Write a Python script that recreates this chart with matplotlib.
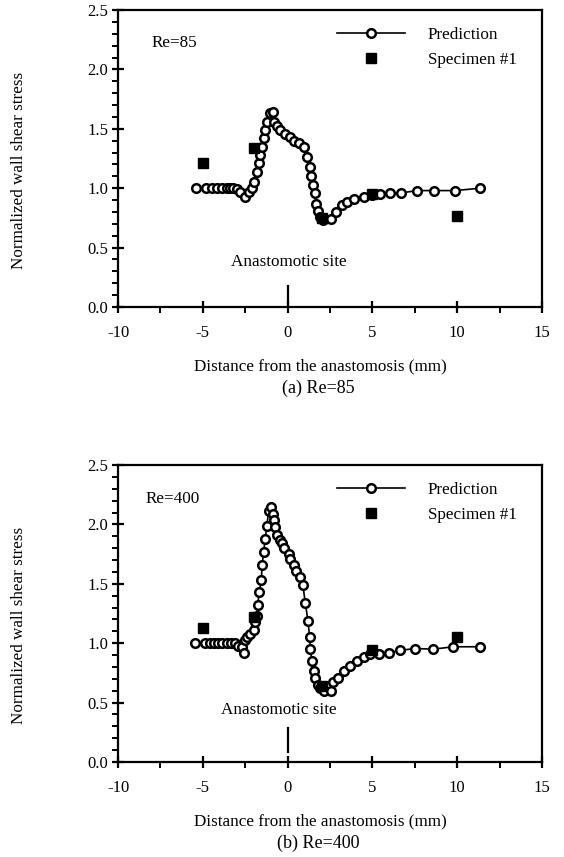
import matplotlib
matplotlib.use("Agg")
import matplotlib.pyplot as plt
from matplotlib.ticker import MultipleLocator

plt.rcParams['font.family'] = ['Liberation Serif', 'DejaVu Serif']

# Re = 85
pred85_x = [-5.4, -4.8, -4.46, -4.17, -3.87, -3.6, -3.4, -3.2, -3.0, -2.8, -2.53, -2.3, -2.1,
            -1.96, -1.8, -1.7, -1.6, -1.5, -1.41, -1.32, -1.2, -1.06, -0.86, -0.82, -0.63,
            -0.43, -0.14, 0.12, 0.35, 0.65, 0.98, 1.14, 1.3, 1.39, 1.49, 1.59, 1.69, 1.79,
            1.93, 2.08, 2.55, 2.87, 3.2, 3.5, 3.9, 4.48, 4.97, 5.46, 6.05, 6.7, 7.62, 8.64,
            9.88, 11.36]
pred85_y = [1.0, 1.0, 1.0, 1.0, 1.0, 1.0, 1.0, 1.0, 0.99, 0.97, 0.93, 0.97, 1.0,
            1.05, 1.14, 1.21, 1.28, 1.35, 1.42, 1.49, 1.56, 1.63, 1.64, 1.56, 1.52,
            1.49, 1.46, 1.43, 1.40, 1.38, 1.35, 1.26, 1.18, 1.10, 1.03, 0.96, 0.87, 0.81,
            0.76, 0.73, 0.74, 0.80, 0.86, 0.88, 0.91, 0.93, 0.94, 0.95, 0.96, 0.96, 0.98, 0.98,
            0.98, 1.0]
spec85_x = [-5.0, -2.0, 2.0, 5.0, 10.0]
spec85_y = [1.21, 1.34, 0.745, 0.95, 0.77]

# Re = 400
pred400_x = [-5.44, -4.87, -4.6, -4.35, -4.1, -3.85, -3.6, -3.35, -3.1, -2.9, -2.7, -2.6,
             -2.54, -2.4, -2.2, -2.0, -1.9, -1.8, -1.77, -1.67, -1.55, -1.5, -1.41, -1.32,
             -1.22, -1.12, -0.98, -0.86, -0.82, -0.73, -0.63, -0.47, -0.33, -0.2, 0.06,
             0.16, 0.35, 0.51, 0.75, 0.9, 1.04, 1.2, 1.3, 1.34, 1.43, 1.53, 1.63, 1.77,
             1.93, 2.12, 2.55, 2.7, 2.95, 3.3, 3.7, 4.09, 4.48, 4.87, 5.36, 5.95, 6.64,
             7.52, 8.6, 9.78, 11.36]
pred400_y = [1.0, 1.0, 1.0, 1.0, 1.0, 1.0, 1.0, 1.0, 1.0, 0.98, 0.97, 0.92,
             1.03, 1.05, 1.08, 1.11, 1.18, 1.23, 1.32, 1.43, 1.53, 1.66, 1.77, 1.88,
             1.99, 2.11, 2.15, 2.09, 2.04, 1.98, 1.91, 1.87, 1.84, 1.80, 1.75,
             1.71, 1.66, 1.61, 1.56, 1.49, 1.34, 1.19, 1.05, 0.95, 0.85, 0.77, 0.71, 0.65,
             0.62, 0.60, 0.60, 0.67, 0.71, 0.77, 0.81, 0.85, 0.88, 0.91, 0.91, 0.92, 0.94,
             0.955, 0.95, 0.97, 0.97]
spec400_x = [-5.0, -2.0, 2.0, 5.0, 10.0]
spec400_y = [1.13, 1.22, 0.64, 0.94, 1.05]

x_ticks = [-10, -5, 0, 5, 10, 15]
x_ticklabels = ['-10', '-5', '0', '5', '10', '15']
y_ticks = [0.0, 0.5, 1.0, 1.5, 2.0, 2.5]
y_ticklabels = ['0.0', '0.5', '1.0', '1.5', '2.0', '2.5']

fig = plt.figure(figsize=(5.64, 8.57), dpi=100)

W, H = 564.0, 857.0
FS = 12.3
panels = [
    dict(px=pred85_x, py=pred85_y, sx=spec85_x, sy=spec85_y, top=10, bottom=307,
         re='Re=85', re_xy=(-8.0, 2.22), site_xy=(0.1, 0.376), bar=(0.03, 0.18),
         caption='(a) Re=85'),
    dict(px=pred400_x, py=pred400_y, sx=spec400_x, sy=spec400_y, top=465, bottom=762,
         re='Re=400', re_xy=(-8.4, 2.21), site_xy=(-0.5, 0.44), bar=(0.08, 0.29),
         caption='(b) Re=400'),
]

for p in panels:
    ax = fig.add_axes([118 / W, 1 - p['bottom'] / H, (542 - 118) / W, (p['bottom'] - p['top']) / H])
    ax.plot(p['px'], p['py'], '-o', color='black', lw=1.2, markersize=6.2,
            markerfacecolor='white', markeredgecolor='black', markeredgewidth=1.8,
            label='Prediction')
    ax.plot(p['sx'], p['sy'], 's', color='black', markersize=6.5, linestyle='none',
            label='Specimen #1', zorder=3)
    ax.set_xlim(-10, 15)
    ax.set_ylim(0, 2.5)
    ax.set_xticks(x_ticks)
    ax.set_xticklabels(x_ticklabels)
    ax.set_yticks(y_ticks)
    ax.set_yticklabels(y_ticklabels)
    ax.xaxis.set_minor_locator(MultipleLocator(2.5))
    ax.yaxis.set_minor_locator(MultipleLocator(0.1))
    ax.tick_params(which='major', direction='inout', length=8, width=1.6, labelsize=12)
    ax.tick_params(which='minor', direction='out', length=4, width=1.4)
    ax.tick_params(axis='x', which='major', pad=9)
    ax.tick_params(axis='y', which='major', pad=3)
    for s in ax.spines.values():
        s.set_linewidth(1.6)
    ax.set_xlabel('Distance from the anastomosis (mm)', fontsize=FS)
    ax.xaxis.set_label_coords((320 - 118) / 424, -(358 - 307) / 297)
    ax.set_ylabel('Normalized wall shear stress', fontsize=FS)
    ax.yaxis.set_label_coords((19 - 118) / 424, 0.46)
    ax.yaxis.label.set_va('center')
    ax.text(p['re_xy'][0], p['re_xy'][1], p['re'], fontsize=FS, va='center', ha='left')
    ax.text(p['site_xy'][0], p['site_xy'][1], 'Anastomotic site', fontsize=FS,
            va='center', ha='center')
    ax.plot([0, 0], list(p['bar']), color='black', lw=1.6)
    ax.legend(loc='upper left', bbox_to_anchor=((337 - 118) / 424, (307 - 27) / 297),
              frameon=False, fontsize=FS, borderpad=0, borderaxespad=0,
              handlelength=3.98, handletextpad=1.35, labelspacing=0.5)
    fig.text(318 / W, 1 - (p['bottom'] + 81) / H, p['caption'],
             fontsize=13, ha='center', va='center')

fig.savefig('out.png', dpi=100)
